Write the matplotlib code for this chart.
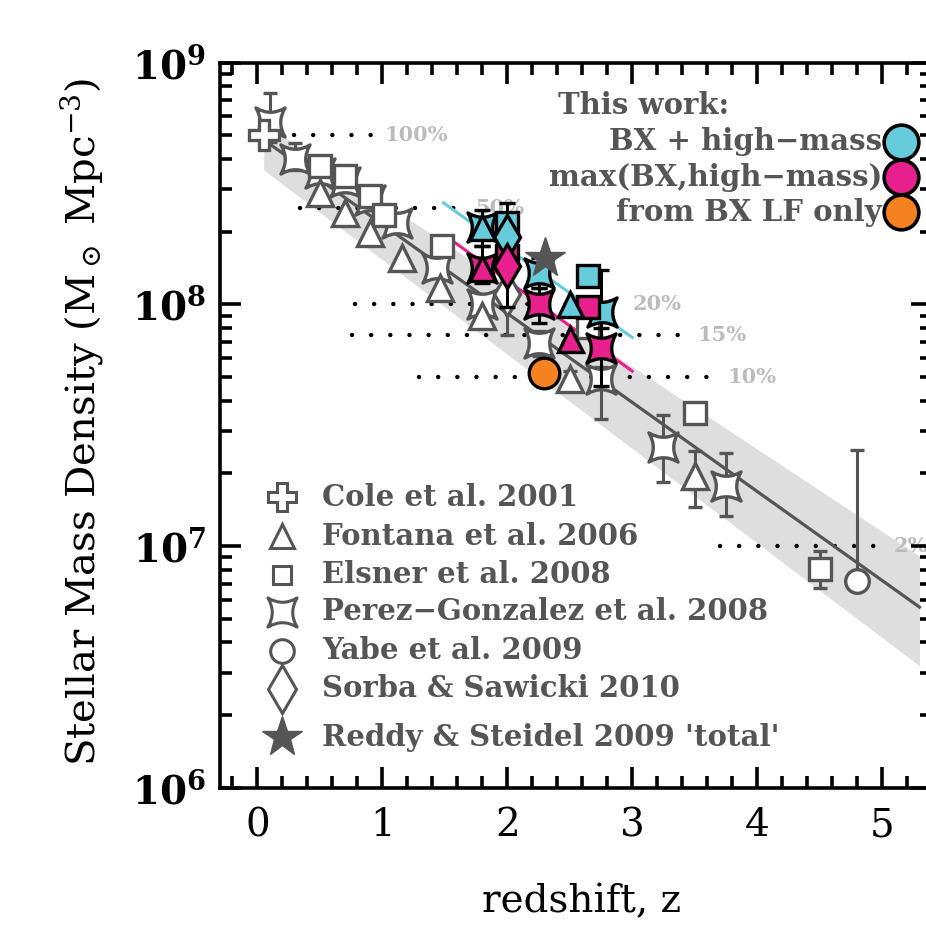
import numpy as np
import matplotlib
matplotlib.use("Agg")
import matplotlib.pyplot as plt
from matplotlib.path import Path
from matplotlib.ticker import FixedLocator, NullFormatter

plt.rcParams['font.family'] = 'DejaVu Serif'
plt.rcParams['mathtext.fontset'] = 'custom'
plt.rcParams['mathtext.rm'] = 'DejaVu Serif'
plt.rcParams['mathtext.bf'] = 'DejaVu Serif:bold'
plt.rcParams['mathtext.it'] = 'DejaVu Serif:italic'

#%% Data
# literature points
cole_z = [0.05]
cole_rho = [5.0e8]

fontana_z = [0.5, 0.7, 0.9, 1.16, 1.46, 1.8, 2.5, 3.5]
fontana_rho = [2.9e8, 2.4e8, 1.98e8, 1.56e8, 1.17e8, 9.0e7, 4.9e7, 1.95e7]
fontana_lo = [np.nan, np.nan, np.nan, np.nan, np.nan, np.nan, 4.5e7, 1.45e7]
fontana_hi = [np.nan, np.nan, np.nan, np.nan, np.nan, np.nan, 5.3e7, 2.48e7]

elsner_z = [0.5, 0.7, 0.9, 1.01, 1.48, 2.65, 3.5, 4.5]
elsner_rho = [3.75e8, 3.4e8, 2.8e8, 2.35e8, 1.74e8, 8.1e7, 3.57e7, 8.05e6]
elsner_lo = [np.nan, np.nan, np.nan, np.nan, np.nan, np.nan, np.nan, 6.7e6]
elsner_hi = [np.nan, np.nan, np.nan, np.nan, np.nan, np.nan, np.nan, 9.6e6]

pg_z = [0.1, 0.3, 0.5, 0.7, 0.9, 1.12, 1.44, 1.8, 2.25, 2.75, 3.25, 3.75]
pg_rho = [5.7e8, 4.0e8, 3.5e8, 3.2e8, 2.7e8, 2.17e8, 1.42e8, 1.0e8, 6.95e7, 4.9e7, 2.57e7, 1.78e7]
pg_lo = [4.7e8, 3.6e8, 3.2e8, 2.99e8, 2.59e8, 2.0e8, 1.3e8, 8.3e7, 6.1e7, 3.35e7, 1.84e7, 1.34e7]
pg_hi = [7.5e8, 4.65e8, 3.9e8, 3.66e8, 3.03e8, 2.4e8, 1.6e8, 1.1e8, 7.8e7, 5.5e7, 3.5e7, 2.43e7]

yabe_z = [4.8]
yabe_rho = [7.2e6]
yabe_hi = [2.5e7]

sorba_z = [2.0]
sorba_rho = [1.1e8]
sorba_lo = [7.5e7]
sorba_hi = [1.3e8]

reddy_z = [2.3]
reddy_rho = [1.56e8]

# this work
cyan_tri_z, cyan_tri_rho = [1.8, 2.5], [2.1e8, 1.0e8]
cyan_pg_z, cyan_pg_rho = [1.8, 2.25, 2.76], [2.1e8, 1.35e8, 9.3e7]
cyan_sq_z, cyan_sq_rho = [2.0, 2.65], [2.17e8, 1.31e8]
cyan_dia_z, cyan_dia_rho = [2.0], [1.91e8]

mag_tri_z, mag_tri_rho = [1.8, 2.5], [1.42e8, 7.2e7]
mag_pg_z, mag_pg_rho = [1.8, 2.25, 2.75], [1.42e8, 1.0e8, 6.6e7]
mag_sq_z, mag_sq_rho = [2.0, 2.65], [1.58e8, 9.8e7]
mag_dia_z, mag_dia_rho = [2.0], [1.44e8]

orange_z, orange_rho = [2.29], [5.2e7]

# error bars on this work
tw_err_z = [1.8, 1.8, 2.0, 2.0, 2.25, 2.25, 2.75, 2.75]
tw_err_mid = [2.1e8, 1.42e8, 2.17e8, 1.44e8, 1.35e8, 1.0e8, 9.3e7, 6.6e7]
tw_err_lo = [1.74e8, 1.23e8, 1.6e8, 9.8e7, 1.17e8, 8.4e7, 7.0e7, 4.6e7]
tw_err_hi = [2.45e8, 1.74e8, 2.63e8, 1.75e8, 1.55e8, 1.17e8, 1.39e8, 8.0e7]

# fit line and its uncertainty band
fit_z = [0.05, 5.3]
fit_rho = [4.8e8, 5.6e6]
band_lo = [3.6e8, 3.2e6]
band_hi = [5.6e8, 9.1e6]

cyan_line_z, cyan_line_rho = [1.49, 3.0], [2.63e8, 7.3e7]
mag_line_z, mag_line_rho = [1.57, 3.0], [1.82e8, 5.3e7]

# percentage reference levels
total_rho = 5.0e8
pct_frac = [1.0, 0.5, 0.2, 0.15, 0.1, 0.02]
pct_label = ['100%', '50%', '20%', '15%', '10%', '2%']
pct_z0 = [0.29, 0.34, 0.78, 0.76, 1.29, 3.70]
pct_z1 = [0.93, 1.70, 2.93, 3.42, 3.69, 5.07]
pct_ztext = [1.02, 1.745, 3.0, 3.52, 3.76, 5.09]

#%% Styles
GRAY = '#555555'
CYAN = '#66CBDA'
MAGENTA = '#E8208E'
ORANGE = '#F58220'

# Perez-Gonzalez marker: square with concave sides
pg_verts = [(-1, -1), (0, -0.4), (1, -1), (0.4, 0), (1, 1), (0, 0.4), (-1, 1),
            (-0.4, 0), (-1, -1), (-1, -1)]
pg_codes = [Path.MOVETO, Path.CURVE3, Path.CURVE3, Path.CURVE3, Path.CURVE3,
            Path.CURVE3, Path.CURVE3, Path.CURVE3, Path.CURVE3, Path.CLOSEPOLY]
PG = Path(pg_verts, pg_codes)

def errs(mid, lo, hi):
    mid = np.array(mid, dtype=float)
    return [mid - np.array(lo, dtype=float), np.array(hi, dtype=float) - mid]

#%% Figure
fig = plt.figure(figsize=(9.26, 9.25), dpi=100)
ax = fig.add_axes([220/926, 1 - 788/925, 712/926, (788 - 62.7)/925])
ax.set_yscale('log')
ax.set_xlim(-0.3, 5.4)
ax.set_ylim(1e6, 1e9)

# band + lines
ax.fill_between(fit_z, band_lo, band_hi, color='#DEDEDE', lw=0, zorder=1)
ax.plot(fit_z, fit_rho, color=GRAY, lw=2.3, zorder=2)
ax.plot(cyan_line_z, cyan_line_rho, color=CYAN, lw=2.2, zorder=2)
ax.plot(mag_line_z, mag_line_rho, color=MAGENTA, lw=2.2, zorder=2)

for f, lab, z0, z1, zt in zip(pct_frac, pct_label, pct_z0, pct_z1, pct_ztext):
    lvl = total_rho * f
    ax.plot([z0, z1], [lvl, lvl], color='k', lw=3.2, ls=(0, (0.01, 4.3)),
            dash_capstyle='round', zorder=1.5)
    ax.text(zt, lvl, lab, color='#BBBBBB', fontsize=15, fontweight='heavy',
            va='center', ha='left', zorder=1.5)

# literature error bars
ekw = dict(fmt='none', ecolor=GRAY, elinewidth=2.2, capsize=5, capthick=2.4, zorder=3)
ax.errorbar(fontana_z, fontana_rho, yerr=errs(fontana_rho, fontana_lo, fontana_hi), **ekw)
ax.errorbar(elsner_z, elsner_rho, yerr=errs(elsner_rho, elsner_lo, elsner_hi), **ekw)
ax.errorbar(pg_z, pg_rho, yerr=errs(pg_rho, pg_lo, pg_hi), **ekw)
ax.errorbar(yabe_z, yabe_rho, yerr=errs(yabe_rho, yabe_rho, yabe_hi), **ekw)
ax.errorbar(sorba_z, sorba_rho, yerr=errs(sorba_rho, sorba_lo, sorba_hi), **ekw)

# literature markers
mkw = dict(ls='none', mfc='white', mec=GRAY, mew=2.4, zorder=4)
ax.plot(pg_z, pg_rho, marker=PG, ms=21, **mkw)
ax.plot(cole_z, cole_rho, marker='P', ms=21, **mkw)
ax.plot(elsner_z, elsner_rho, marker='s', ms=15.5, **mkw)
ax.plot(fontana_z, fontana_rho, marker='^', ms=19, **mkw)
ax.plot(yabe_z, yabe_rho, marker='o', ms=17, **mkw)
ax.plot(sorba_z, sorba_rho, marker='d', ms=22, **mkw)

# this work
ax.errorbar(tw_err_z, tw_err_mid, yerr=errs(tw_err_mid, tw_err_lo, tw_err_hi),
            fmt='none', ecolor='k', elinewidth=2.2, capsize=6, capthick=2.4, zorder=5)
tkw = dict(ls='none', mec='k', mew=2.4, zorder=6)
ax.plot(cyan_pg_z, cyan_pg_rho, marker=PG, ms=21, mfc=CYAN, **tkw)
ax.plot(mag_pg_z, mag_pg_rho, marker=PG, ms=21, mfc=MAGENTA, **tkw)
ax.plot(cyan_sq_z, cyan_sq_rho, marker='s', ms=15.5, mfc=CYAN, **tkw)
ax.plot(mag_sq_z, mag_sq_rho, marker='s', ms=15.5, mfc=MAGENTA, **tkw)
ax.plot(cyan_dia_z, cyan_dia_rho, marker='d', ms=22, mfc=CYAN, **tkw)
ax.plot(mag_dia_z, mag_dia_rho, marker='d', ms=22, mfc=MAGENTA, **tkw)
ax.plot(cyan_tri_z, cyan_tri_rho, marker='^', ms=18, mfc=CYAN, **tkw)
ax.plot(mag_tri_z, mag_tri_rho, marker='^', ms=18, mfc=MAGENTA, **tkw)
ax.plot(reddy_z, reddy_rho, ls='none', marker='*', ms=30, mfc=GRAY, mec=GRAY, zorder=6.5)
ax.plot(orange_z, orange_rho, ls='none', marker='o', ms=22, mfc=ORANGE, mec='k', mew=2.4, zorder=6.5)

#%% Legends (drawn by hand in axes coordinates)
lit_labels = ['Cole et al. 2001', 'Fontana et al. 2006', 'Elsner et al. 2008',
              'Perez\u2212Gonzalez et al. 2008', 'Yabe et al. 2009',
              'Sorba & Sawicki 2010', "Reddy & Steidel 2009 'total'"]
lit_markers = ['P', '^', 's', PG, 'o', 'd', '*']
lit_ms = [20, 17, 13.5, 21, 17, 24, 30]
lit_y = [0.401, 0.347, 0.294, 0.243, 0.189, 0.1365, 0.070]
for lab, m, ms, y in zip(lit_labels, lit_markers, lit_ms, lit_y):
    if m == '*':
        ax.plot([0.087], [y], transform=ax.transAxes, marker=m, ms=ms, mfc=GRAY,
                mec=GRAY, ls='none', clip_on=False, zorder=7)
    else:
        ax.plot([0.087], [y], transform=ax.transAxes, marker=m, ms=ms, mfc='white',
                mec=GRAY, mew=2.2, ls='none', clip_on=False, zorder=7)
    ax.text(0.143, y, lab, transform=ax.transAxes, color=GRAY, fontsize=21,
            fontweight='bold', va='center', ha='left', zorder=7)

ax.text(0.475, 0.941, 'This work:', transform=ax.transAxes, color=GRAY, fontsize=21,
        fontweight='bold', va='center', ha='left')
tw_labels = ['BX + high\u2212mass', 'max(BX,high\u2212mass)', 'from BX LF only']
tw_colors = [CYAN, MAGENTA, ORANGE]
tw_y = [0.891, 0.842, 0.794]
for lab, c, y in zip(tw_labels, tw_colors, tw_y):
    ax.text(0.930, y, lab, transform=ax.transAxes, color=GRAY, fontsize=21,
            fontweight='bold', va='center', ha='right')
    ax.plot([0.957], [y], transform=ax.transAxes, marker='o', ms=25, mfc=c, mec='k',
            mew=2.6, ls='none', clip_on=False)

#%% Axes styling
for s in ax.spines.values():
    s.set_linewidth(2.6)
ax.xaxis.set_major_locator(FixedLocator([0, 1, 2, 3, 4, 5]))
ax.xaxis.set_minor_locator(FixedLocator(np.arange(-0.2, 5.41, 0.2)))
ax.set_xticklabels(['0', '1', '2', '3', '4', '5'])
ax.yaxis.set_major_locator(FixedLocator([1e6, 1e7, 1e8, 1e9]))
ax.yaxis.set_minor_locator(FixedLocator([k * 10.0**e for e in (6, 7, 8) for k in range(2, 10)]))
ax.yaxis.set_minor_formatter(NullFormatter())
ax.set_yticklabels([r'$\mathbf{10^{6}}$', r'$\mathbf{10^{7}}$', r'$\mathbf{10^{8}}$', r'$\mathbf{10^{9}}$'])
ax.tick_params(which='both', direction='in', top=True, right=True, width=2.6,
               labelsize=28, colors='k')
ax.tick_params(which='major', length=15, pad=10)
ax.tick_params(which='minor', length=8.5)
ax.tick_params(axis='x', which='major', pad=14)

ax.set_ylabel(r'Stellar Mass Density (M$_\odot$ Mpc$^{-3}$)', fontsize=29)
ax.yaxis.set_label_coords(-0.162, 0.505)
ax.set_xlabel('redshift, z', fontsize=28)
ax.xaxis.set_label_coords(0.508, -0.132)

fig.savefig('out.png', dpi=100)
